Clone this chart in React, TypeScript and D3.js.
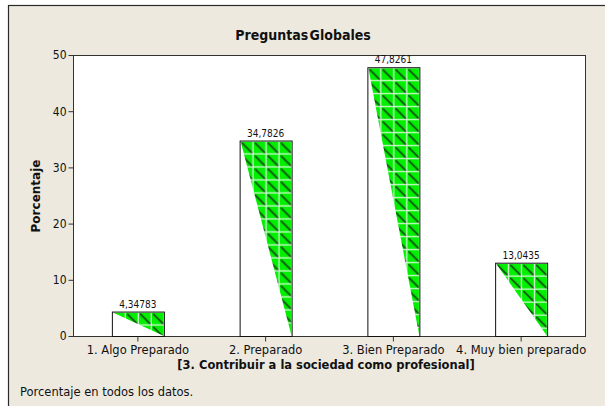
import { useEffect, useRef } from "react";
import * as d3 from "d3";

// datos
const categories = ["1. Algo Preparado", "2. Preparado", "3. Bien Preparado", "4. Muy bien preparado"];
const values = [4.34783, 34.7826, 47.8261, 13.0435];
const yTicks = [0, 10, 20, 30, 40, 50];

const FONT = "Tahoma, 'DejaVu Sans', sans-serif";
const FONT_C = "'DejaVu Sans Condensed', 'DejaVu Sans', sans-serif";

export default function App() {
  const svgRef = useRef<SVGSVGElement>(null);

  useEffect(() => {
    if (!svgRef.current) return;
    const svg = d3.select(svgRef.current);
    svg.selectAll("*").remove();

    const W = 605;
    const H = 406;
    const plot = { left: 73, right: 585, top: 55, bottom: 336 };

    // fondo
    svg.append("rect").attr("width", W).attr("height", H).attr("fill", "white");
    svg.append("rect")
      .attr("x", 8.5).attr("y", 5.5).attr("width", W + 10).attr("height", H + 10)
      .attr("fill", "#ede9df").attr("stroke", "#2a2a2a").attr("stroke-width", 1.2);

    const xScale = d3.scaleBand<string>().domain(categories).range([plot.left + 1, plot.right]);
    const yScale = d3.scaleLinear().domain([0, 50]).range([plot.bottom, plot.top]);
    const barW = 52;

    // patrones (uno por barra, alineado a la esquina superior izquierda)
    const defs = svg.append("defs");
    const cell = 13;
    values.forEach((v, i) => {
      const x0 = xScale(categories[i])! + xScale.bandwidth() / 2 - barW / 2;
      const pat = defs.append("pattern")
        .attr("id", `pat${i}`)
        .attr("patternUnits", "userSpaceOnUse")
        .attr("x", x0 + 1).attr("y", yScale(v) + 1)
        .attr("width", cell).attr("height", cell);
      pat.append("rect").attr("width", cell).attr("height", cell).attr("fill", "#00f000");
      pat.append("line")
        .attr("x1", 1.5).attr("y1", 1.5).attr("x2", cell - 1.5).attr("y2", cell - 1.5)
        .attr("stroke", "#138a13").attr("stroke-width", 2.4);
      pat.append("line")
        .attr("x1", 1).attr("y1", 1).attr("x2", cell - 1).attr("y2", cell - 1)
        .attr("stroke", "#0a300a").attr("stroke-width", 1);
      pat.append("rect").attr("x", cell - 1.2).attr("y", 0).attr("width", 1.2).attr("height", cell).attr("fill", "#e0f7e0");
      pat.append("rect").attr("x", 0).attr("y", cell - 1.2).attr("width", cell).attr("height", 1.2).attr("fill", "#e0f7e0");
    });

    // área del gráfico
    svg.append("rect")
      .attr("x", plot.left + 0.5).attr("y", plot.top + 0.5)
      .attr("width", plot.right - plot.left).attr("height", plot.bottom - plot.top)
      .attr("fill", "white").attr("stroke", "#333").attr("stroke-width", 1);

    // título
    svg.append("text")
      .attr("x", 303).attr("y", 40).attr("text-anchor", "middle")
      .attr("font-family", FONT_C).attr("font-size", 14).attr("font-weight", "bold")
      .attr("word-spacing", -3)
      .attr("fill", "#111").text("Preguntas Globales");

    // barras
    const bars = svg.append("g");
    values.forEach((v, i) => {
      const cx = xScale(categories[i])! + xScale.bandwidth() / 2;
      const x0 = cx - barW / 2;
      const x1 = cx + barW / 2;
      const yTop = yScale(v);
      const yBot = yScale(0);
      bars.append("rect")
        .attr("x", x0 + 0.5).attr("y", yTop + 0.5)
        .attr("width", barW).attr("height", yBot - yTop)
        .attr("fill", "white");
      bars.append("path")
        .attr("d", `M${x0 + 1},${yTop + 1}L${x1},${yTop + 1}L${x1},${yBot}Z`)
        .attr("fill", `url(#pat${i})`);
      bars.append("rect")
        .attr("x", x0 + 0.5).attr("y", yTop + 0.5)
        .attr("width", barW).attr("height", yBot - yTop)
        .attr("fill", "none").attr("stroke", "#111").attr("stroke-width", 1);
      bars.append("text")
        .attr("x", cx).attr("y", yTop - 4).attr("text-anchor", "middle")
        .attr("font-family", FONT_C).attr("font-size", 10).attr("fill", "#111")
        .text(String(v).replace(".", ","));
    });

    // eje y
    svg.append("g")
      .attr("transform", `translate(${plot.left + 0.5},0)`)
      .call(d3.axisLeft(yScale).tickValues(yTicks).tickSize(5).tickPadding(2))
      .call((ax) => ax.select(".domain").remove())
      .call((ax) => ax.selectAll("line").attr("stroke", "#333"))
      .call((ax) => ax.selectAll("text").attr("fill", "#111").style("font-family", FONT_C).style("font-size", "12px"));

    // eje x
    svg.append("g")
      .attr("transform", `translate(0,${plot.bottom + 0.5})`)
      .call(d3.axisBottom(xScale).tickSize(5).tickPadding(4))
      .call((ax) => ax.select(".domain").remove())
      .call((ax) => ax.selectAll("line").attr("stroke", "#333"))
      .call((ax) => ax.selectAll("text").attr("fill", "#111").style("font-family", FONT).style("font-size", "11.5px"));

    svg.append("text")
      .attr("transform", `translate(40,196) rotate(-90)`)
      .attr("text-anchor", "middle")
      .attr("font-family", FONT).attr("font-size", 12).attr("font-weight", "bold")
      .attr("fill", "#111").text("Porcentaje");

    svg.append("text")
      .attr("x", 326).attr("y", 369).attr("text-anchor", "middle")
      .attr("font-family", FONT).attr("font-size", 11.5).attr("font-weight", "bold")
      .attr("fill", "#111").text("[3. Contribuir a la sociedad como profesional]");

    svg.append("text")
      .attr("x", 20).attr("y", 396)
      .attr("font-family", FONT).attr("font-size", 11.5)
      .attr("fill", "#111").text("Porcentaje en todos los datos.");
  }, []);

  return (
    <svg ref={svgRef} width={605} height={406} style={{ position: "absolute", left: 0, top: 0 }} />
  );
}
